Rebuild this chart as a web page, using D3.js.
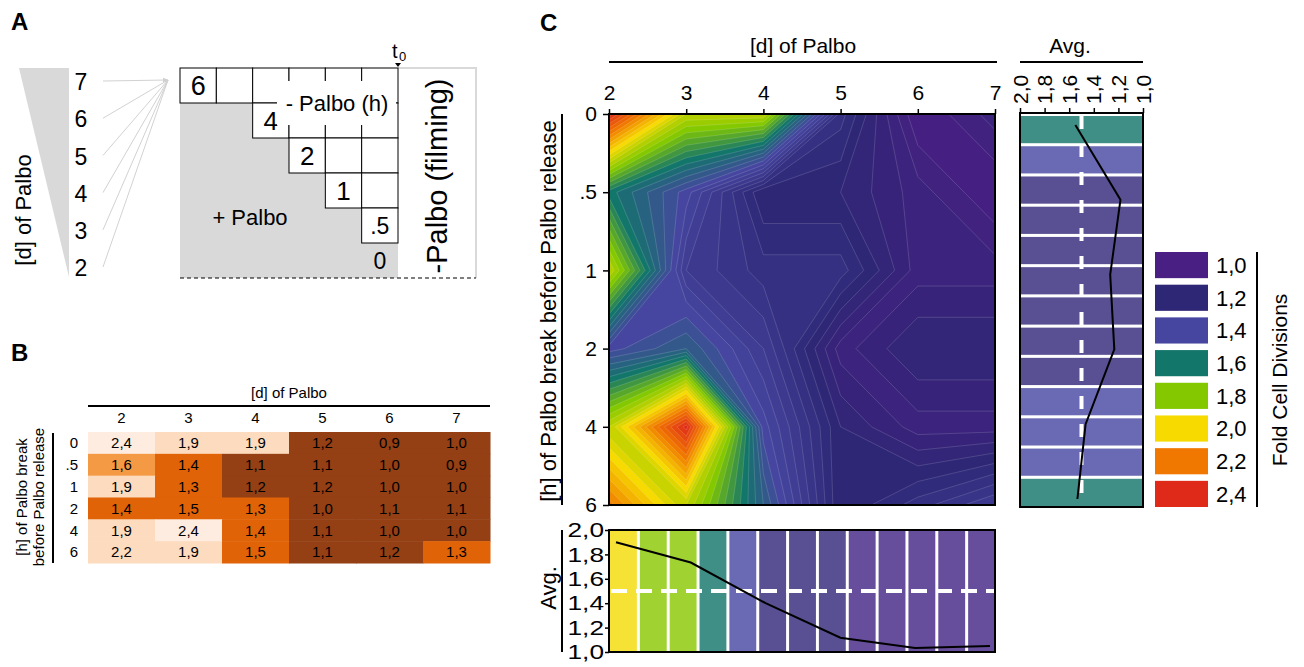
<!DOCTYPE html>
<html><head><meta charset="utf-8">
<script src="https://cdn.jsdelivr.net/npm/d3@7"></script>
<style>body{margin:0;background:#fff}svg{display:block}</style>
</head><body><svg id="c" width="1304" height="667"></svg>
<script>
// ---------- data ----------
const dCategories = [2,3,4,5,6,7];
const hCategories = ["0",".5","1","2","4","6"];
const foldValues = [
  [2.4,1.9,1.9,1.2,0.9,1.0],
  [1.6,1.4,1.1,1.1,1.0,0.9],
  [1.9,1.3,1.2,1.2,1.0,1.0],
  [1.4,1.5,1.3,1.0,1.1,1.1],
  [1.9,2.4,1.4,1.1,1.0,1.0],
  [2.2,1.9,1.5,1.1,1.2,1.3]
];
const legendValues = [1.0,1.2,1.4,1.6,1.8,2.0,2.2,2.4];
const legendColors = ["#4a1f84","#2e2775","#4646a0","#13766a","#84c800","#f6da00","#f07800","#df2a1a"];
const contourStops = [0.88,1.12,1.4,1.6,1.8,2.0,2.2,2.4];
const avgTicks = [2.0,1.8,1.6,1.4,1.2,1.0];
const avgClasses = [1.0,1.2,1.4,1.6,1.8,2.0];
const avgClassColors = ["#674e9c","#585092","#6a6ab4","#3f8f87","#a0d232","#f6e135"];
const colBarClasses = [2.0,1.8,1.8,1.6,1.4,1.2,1.2,1.2,1.0,1.0,1.0,1.0,1.0];
const rowBarClasses = [1.6,1.4,1.2,1.2,1.2,1.2,1.2,1.2,1.2,1.4,1.4,1.4,1.6];
const avgReference = 1.5;
const tableBins = [1.25,1.55,1.85,2.35];
const tableColors = ["#943f14","#e06308","#f59a44","#fddbbf","#feece0"];
const schemeDays = [7,6,5,4,3,2];
const schemeHours = ["6","4","2","1",".5","0"];

// ---------- setup ----------
const FONT = '"Liberation Sans", Arial, Helvetica, sans-serif';
const svg = d3.select("#c").attr("font-family", FONT);
svg.append("rect").attr("width",1304).attr("height",667).attr("fill","#fff");
const fmt = v => d3.format(".1f")(v).replace(".", ",");
const rowAvg = foldValues.map(r => d3.mean(r));
const colAvg = dCategories.map((d,i) => d3.mean(foldValues, r => r[i]));

function txt(g, x, y, s, fs, anchor, extra) {
  const t = g.append("text").attr("x", x).attr("y", y).attr("font-size", fs)
    .attr("text-anchor", anchor || "start").attr("fill", "#000").text(s);
  if (extra) extra(t);
  return t;
}
function rtxt(g, x, y, s, fs, anchor) {
  return g.append("text").attr("transform", `translate(${x},${y}) rotate(-90)`)
    .attr("font-size", fs).attr("text-anchor", anchor || "middle").attr("fill","#000").text(s);
}
function line(g, x1, y1, x2, y2, w, col, dash) {
  const l = g.append("line").attr("x1",x1).attr("y1",y1).attr("x2",x2).attr("y2",y2)
    .attr("stroke", col || "#000").attr("stroke-width", w || 1);
  if (dash) l.attr("stroke-dasharray", dash);
  return l;
}

// ---------- Panel A ----------
const A = svg.append("g");
txt(A, 11, 30, "A", 24, "start", t => t.attr("font-weight","bold"));
A.append("polygon").attr("points","19,68 69,68 69,277").attr("fill","#d9d9d9");
rtxt(A, 31, 210, "[d] of Palbo", 22);
const yDay = d3.scalePoint().domain(schemeDays).range([82,268]);
const defs = svg.append("defs");
defs.append("marker").attr("id","arr").attr("viewBox","0 0 10 10").attr("refX",9).attr("refY",5)
  .attr("markerWidth",6).attr("markerHeight",6).attr("orient","auto")
  .append("path").attr("d","M0,1L10,5L0,9z").attr("fill","#cfcfcf");
schemeDays.forEach(d => {
  txt(A, 81, yDay(d), d, 23, "middle", t => t.attr("dy","0.36em"));
  const l = line(A, 103, yDay(d) - 1, 168, 80, 1, "#d2d2d2");
  if (d === 7) l.attr("marker-end","url(#arr)");
});
const colA = d3.scaleLinear().domain([0,6]).range([180,398]);
const rowA = d3.scaleBand().domain(schemeHours).range([68,278]);
const startCol = [0,2,3,4,5,5];
A.append("rect").attr("x",180).attr("y",68).attr("width",218).attr("height",210).attr("fill","#d9d9d9");
A.append("rect").attr("x",398).attr("y",68).attr("width",78).attr("height",210).attr("fill","#fff");
line(A, 398, 68, 477, 68, 2, "#d9d9d9");
line(A, 476, 68, 476, 278, 2, "#d9d9d9");
schemeHours.forEach((h, r) => {
  if (r < 5) {
    for (let c = startCol[r]; c < 6; c++) {
      A.append("rect").attr("x", colA(c)).attr("y", rowA(h))
        .attr("width", colA(c+1) - colA(c)).attr("height", rowA.bandwidth())
        .attr("fill","#fff").attr("stroke","#000").attr("stroke-width",1);
    }
  }
  const c0 = startCol[r];
  txt(A, (colA(c0) + colA(c0+1)) / 2, rowA(h) + rowA.bandwidth()/2, h, r === 0 ? 27 : (r < 4 ? 26 : 23), "middle",
      t => t.attr("dy","0.36em"));
});
A.append("rect").attr("x",277).attr("y",81).attr("width",119).attr("height",44).attr("fill","#fff");
txt(A, 337, 103, "- Palbo (h)", 22, "middle", t => t.attr("dy","0.36em"));
txt(A, 250, 217, "+ Palbo", 22, "middle", t => t.attr("dy","0.36em"));
A.append("text").attr("transform","translate(437,176) rotate(-90)").attr("dy","0.36em")
  .attr("font-size",29).attr("text-anchor","middle").text("-Palbo (filming)");
line(A, 180, 278, 476, 278, 1.2, "#000", "4 3");
A.append("path").attr("d","M395,63L401,63L398,67z").attr("fill","#000");
txt(A, 392, 58, "t", 20, "start");
txt(A, 399, 61, "0", 13, "start");

// ---------- Panel B ----------
const B = svg.append("g");
txt(B, 11, 361, "B", 24, "start", t => t.attr("font-weight","bold"));
const xB = d3.scaleBand().domain(dCategories).range([88,490]);
const yB = d3.scaleBand().domain(hCategories).range([432,563]);
const tColor = d3.scaleThreshold().domain(tableBins).range(tableColors);
foldValues.forEach((row, j) => row.forEach((v, i) => {
  B.append("rect").attr("x", xB(dCategories[i])).attr("y", yB(hCategories[j]))
    .attr("width", xB.bandwidth() + 0.5).attr("height", yB.bandwidth() + 0.5).attr("fill", tColor(v));
  txt(B, xB(dCategories[i]) + xB.bandwidth()/2, yB(hCategories[j]) + yB.bandwidth()/2, fmt(v), 15, "middle",
      t => t.attr("dy","0.36em"));
}));
dCategories.forEach(d => txt(B, xB(d) + xB.bandwidth()/2, 418, d, 15, "middle", t => t.attr("dy","0.36em")));
hCategories.forEach(h => txt(B, 78, yB(h) + yB.bandwidth()/2, h, 15, "end", t => t.attr("dy","0.36em")));
txt(B, 289, 398, "[d] of Palbo", 15, "middle");
line(B, 88, 406, 490, 406, 2);
line(B, 53, 433, 53, 563, 2);
rtxt(B, 27, 497, "[h] of Palbo break", 15);
rtxt(B, 44, 497, "before Palbo release", 15);

// ---------- Panel C: contour ----------
const C = svg.append("g");
txt(C, 540, 31, "C", 24, "start", t => t.attr("font-weight","bold"));
const X0 = 609, X1 = 995, Y0 = 114, Y1 = 505;
const xC = d3.scalePoint().domain(dCategories).range([X0, X1]);
const yC = d3.scalePoint().domain(hCategories).range([Y0, Y1]);
const nx = dCategories.length, ny = hCategories.length;
const flat = [];
foldValues.forEach(r => r.forEach(v => flat.push(v)));
const step = 0.04;
const thresholds = d3.range(0.86, 2.46, step);
const cColor = d3.scaleLinear().domain(contourStops).range(legendColors).clamp(true);
const gx = d3.scaleLinear().domain([0.5, nx - 0.5]).range([X0, X1]);
const gy = d3.scaleLinear().domain([0.5, ny - 0.5]).range([Y0, Y1]);
const gpath = d3.geoPath(d3.geoTransform({ point(x, y) { this.stream.point(gx(x), gy(y)); } }));
defs.append("clipPath").attr("id","cclip").append("rect")
  .attr("x",X0).attr("y",Y0).attr("width",X1-X0).attr("height",Y1-Y0);
const contours = d3.contours().size([nx, ny]).thresholds(thresholds)(flat);
C.append("g").attr("clip-path","url(#cclip)").selectAll("path").data(contours).join("path")
  .attr("d", gpath).attr("fill", d => cColor(d.value + step/2))
  .attr("stroke","rgba(255,255,255,0.25)").attr("stroke-width",0.6);
C.append("rect").attr("x",X0).attr("y",Y0).attr("width",X1-X0).attr("height",Y1-Y0)
  .attr("fill","none").attr("stroke","#000").attr("stroke-width",2);
function styleAxis(g, fs) {
  g.attr("font-family", FONT).attr("font-size", fs);
  g.select(".domain").remove();
  g.selectAll(".tick line").attr("stroke","#000").attr("stroke-width",1.5);
  g.selectAll(".tick text").attr("fill","#000");
}
C.append("g").attr("transform",`translate(0,${Y0})`)
  .call(d3.axisTop(xC).tickSize(5).tickPadding(9)).call(g => styleAxis(g, 21));
C.append("g").attr("transform",`translate(${X0},0)`)
  .call(d3.axisLeft(yC).tickSize(6).tickPadding(6)).call(g => styleAxis(g, 21));
txt(C, 803, 53, "[d] of Palbo", 21, "middle");
line(C, 609, 62, 997, 62, 2);
rtxt(C, 556, 311, "[h] of Palbo break before Palbo release", 22);
line(C, 562, 114, 562, 505, 2);

// ---------- Panel C: right average ----------
const R = svg.append("g");
const xR = d3.scaleLinear().domain([2.0, 1.0]).range([1020, 1143]);
const yRb = d3.scaleBand().domain(d3.range(rowBarClasses.length)).range([116, 506]).paddingInner(0.1);
const yRl = d3.scalePoint().domain(hCategories).range([125, 499]);
const avgColor = d3.scaleOrdinal().domain(avgClasses).range(avgClassColors);
R.selectAll("rect.bar").data(rowBarClasses).join("rect").attr("class","bar")
  .attr("x", 1021).attr("width", 121).attr("y", (d,i) => yRb(i)).attr("height", yRb.bandwidth())
  .attr("fill", d => avgColor(d));
line(R, xR(avgReference), 116, xR(avgReference), 507, 4, "#fff", "13 15");
R.append("path").datum(rowAvg)
  .attr("d", d3.line().x(d => xR(d)).y((d,i) => yRl(hCategories[i])))
  .attr("fill","none").attr("stroke","#000").attr("stroke-width",2);
line(R, 1020, 113, 1020, 508, 2);
line(R, 1143, 113, 1143, 508, 2);
line(R, 1019, 507, 1144, 507, 2);
line(R, 1019, 113, 1144, 113, 2);
R.append("g").attr("transform","translate(0,113)")
  .call(d3.axisTop(xR).tickValues(avgTicks).tickFormat(fmt).tickSize(5))
  .call(g => styleAxis(g, 21))
  .call(g => g.selectAll(".tick text").attr("y", null).attr("dy", null)
    .attr("transform","translate(7,-9) rotate(-90)").attr("text-anchor","start"));
txt(R, 1070, 53, "Avg.", 21, "middle");
line(R, 1020, 62, 1143, 62, 2);

// ---------- Panel C: bottom average ----------
const M = svg.append("g");
const BX0 = 609, BX1 = 995, BY0 = 530, BY1 = 652;
const xM = d3.scaleBand().domain(d3.range(colBarClasses.length)).range([BX0 + 1, BX1]).paddingInner(0.1);
const yM = d3.scaleLinear().domain([1.0, 2.0]).range([BY1, BY0]);
const xMl = d3.scalePoint().domain(dCategories).range([616, 990]);
M.selectAll("rect.bar").data(colBarClasses).join("rect").attr("class","bar")
  .attr("x", (d,i) => xM(i)).attr("width", xM.bandwidth()).attr("y", BY0).attr("height", BY1 - BY0)
  .attr("fill", d => avgColor(d));
line(M, BX0 + 2, yM(avgReference), BX1, yM(avgReference), 4, "#fff", "16 9");
M.append("path").datum(colAvg)
  .attr("d", d3.line().x((d,i) => xMl(dCategories[i])).y(d => yM(d)))
  .attr("fill","none").attr("stroke","#000").attr("stroke-width",2);
M.append("rect").attr("x",BX0).attr("y",BY0).attr("width",BX1-BX0).attr("height",BY1-BY0)
  .attr("fill","none").attr("stroke","#000").attr("stroke-width",2);
const SX = 1.25;
M.append("g").attr("transform",`translate(${BX0},0)`)
  .call(d3.axisLeft(yM).tickValues(avgTicks).tickFormat(fmt).tickSize(4).tickPadding(2))
  .call(g => styleAxis(g, 21))
  .call(g => g.selectAll(".tick text").attr("x", -5 / SX).attr("transform",`scale(${SX},1)`));
rtxt(M, 556, 588, "Avg.", 22);
line(M, 562, 530, 562, 652, 2);

// ---------- legend ----------
const L = svg.append("g");
const yL = d3.scaleBand().domain(legendValues).range([252, 507]).paddingInner(0.2);
legendValues.forEach((v, i) => {
  L.append("rect").attr("x",1155).attr("y",yL(v)).attr("width",53).attr("height",yL.bandwidth())
    .attr("fill", legendColors[i]);
  txt(L, 1216, yL(v) + yL.bandwidth()/2, fmt(v), 22, "start", t => t.attr("dy","0.36em"));
});
line(L, 1257, 252, 1257, 507, 2);
rtxt(L, 1287, 380, "Fold Cell Divisions", 21);
</script></body></html>
